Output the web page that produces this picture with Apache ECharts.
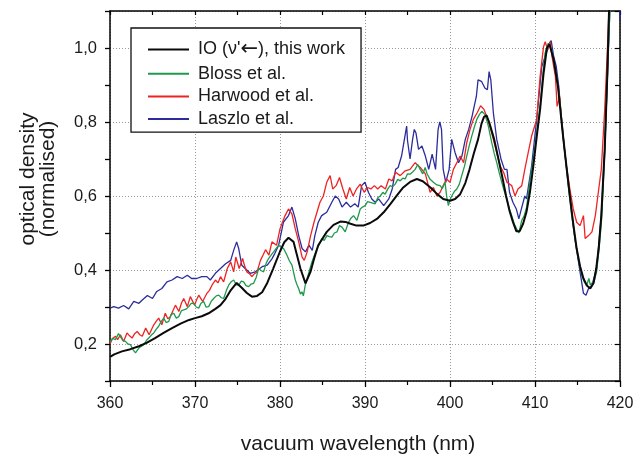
<!DOCTYPE html>
<html>
<head>
<meta charset="utf-8">
<script src="https://cdn.jsdelivr.net/npm/echarts@6/dist/echarts.min.js"></script>
<style>
  html, body { margin: 0; padding: 0; background: #fff; }
  #chart { width: 637px; height: 460px; }
</style>
</head>
<body>
<div id="chart"></div>
<script>
// Normalised optical density vs. vacuum wavelength (nm), four data sets.
const seriesNames = ["IO (\u03bd'\u2190), this work", 'Bloss et al.', 'Harwood et al.', 'Laszlo et al.'];

const ioThisWork = [
  [360.0, 0.165], [360.5, 0.172], [361.4, 0.18], [362.4, 0.186], [363.4, 0.194], [364.3, 0.203],
  [365.3, 0.216], [366.3, 0.23], [367.3, 0.243], [368.3, 0.255], [369.3, 0.265], [370.0, 0.27],
  [370.8, 0.275], [371.6, 0.283], [372.4, 0.295], [373.0, 0.305], [373.6, 0.322], [374.2, 0.345],
  [374.9, 0.365], [375.5, 0.352], [376.1, 0.338], [376.7, 0.328], [377.3, 0.33], [377.9, 0.34],
  [378.5, 0.365], [379.2, 0.404], [380.0, 0.45], [380.5, 0.475], [381.0, 0.487], [381.6, 0.476],
  [382.0, 0.44], [382.4, 0.404], [383.0, 0.364], [383.6, 0.396], [384.0, 0.43], [384.5, 0.467],
  [385.5, 0.503], [386.3, 0.522], [387.1, 0.531], [387.7, 0.53], [388.3, 0.525], [389.0, 0.52],
  [389.8, 0.52], [390.6, 0.527], [391.4, 0.538], [392.2, 0.556], [393.0, 0.579], [393.8, 0.603],
  [394.5, 0.623], [395.3, 0.638], [396.1, 0.646], [396.8, 0.64], [397.7, 0.623], [398.5, 0.605],
  [399.2, 0.592], [400.0, 0.587], [400.6, 0.592], [401.2, 0.605], [401.8, 0.635], [402.3, 0.672],
  [402.8, 0.715], [403.3, 0.753], [403.7, 0.795], [404.0, 0.814], [404.3, 0.818], [404.6, 0.80],
  [405.2, 0.753], [405.7, 0.70], [406.2, 0.646], [406.6, 0.6], [407.0, 0.56], [407.4, 0.53],
  [407.8, 0.505], [408.2, 0.505], [408.6, 0.525], [409.0, 0.557], [409.4, 0.61], [409.8, 0.681],
  [410.2, 0.76], [410.6, 0.834], [411.0, 0.93], [411.4, 1.0], [411.7, 1.01], [412.2, 0.968],
  [412.7, 0.896], [413.3, 0.762], [413.7, 0.68], [414.1, 0.6], [414.5, 0.525], [414.9, 0.458],
  [415.3, 0.41], [415.7, 0.377], [416.1, 0.358], [416.5, 0.35], [416.9, 0.365], [417.2, 0.404],
  [417.5, 0.46], [417.8, 0.547], [418.2, 0.726], [418.5, 0.923], [418.7, 1.093], [419.0, 1.3]
];

const bloss = [
  [360.0, 0.205], [360.3, 0.215], [360.65, 0.212], [361.0, 0.228], [361.23, 0.225], [361.5, 0.21],
  [361.82, 0.207], [362.1, 0.2], [362.41, 0.198], [362.7, 0.185], [363.0, 0.176], [363.39, 0.189],
  [363.97, 0.198], [364.3, 0.21], [364.56, 0.216], [364.9, 0.225], [365.15, 0.23], [365.45, 0.24],
  [365.73, 0.248], [366.0, 0.26], [366.32, 0.27], [366.6, 0.258], [366.91, 0.261], [367.2, 0.28],
  [367.5, 0.283], [367.8, 0.27], [368.09, 0.274], [368.4, 0.29], [368.67, 0.292], [369.0, 0.295],
  [369.26, 0.301], [369.55, 0.31], [369.85, 0.31], [370.15, 0.3], [370.44, 0.297], [370.7, 0.31],
  [371.02, 0.315], [371.3, 0.3], [371.61, 0.301], [371.9, 0.315], [372.2, 0.323], [372.5, 0.33],
  [372.79, 0.332], [373.1, 0.325], [373.37, 0.323], [373.7, 0.345], [373.96, 0.359], [374.25, 0.368],
  [374.55, 0.373], [374.85, 0.36], [375.14, 0.359], [375.45, 0.37], [375.72, 0.368], [376.0, 0.358],
  [376.31, 0.355], [376.6, 0.362], [376.9, 0.364], [377.2, 0.38], [377.49, 0.404], [377.8, 0.398],
  [378.07, 0.395], [378.4, 0.42], [378.66, 0.431], [378.95, 0.44], [379.25, 0.449], [379.6, 0.46],
  [379.84, 0.467], [380.1, 0.462], [380.42, 0.458], [380.82, 0.44], [381.1, 0.425], [381.41, 0.413],
  [381.8, 0.373], [382.0, 0.36], [382.19, 0.35], [382.4, 0.335], [382.58, 0.341], [382.75, 0.33],
  [382.97, 0.359], [383.36, 0.391], [383.76, 0.422], [384.05, 0.44], [384.35, 0.458], [384.65, 0.47],
  [384.93, 0.485], [385.2, 0.48], [385.52, 0.493], [385.8, 0.49], [386.11, 0.489], [386.4, 0.5],
  [386.7, 0.503], [387.0, 0.52], [387.29, 0.516], [387.67, 0.503], [388.06, 0.529], [388.35, 0.54],
  [388.65, 0.547], [389.05, 0.534], [389.44, 0.565], [389.7, 0.57], [390.02, 0.574], [390.3, 0.585],
  [390.61, 0.583], [391.2, 0.579], [391.5, 0.595], [391.79, 0.60], [392.1, 0.61], [392.37, 0.605],
  [392.7, 0.62], [392.96, 0.628], [393.25, 0.625], [393.55, 0.632], [393.85, 0.645], [394.14, 0.641],
  [394.45, 0.648], [394.73, 0.646], [395.0, 0.66], [395.31, 0.659], [395.6, 0.665], [395.9, 0.672],
  [396.2, 0.685], [396.49, 0.672], [396.8, 0.66], [397.08, 0.677], [397.3, 0.66], [397.66, 0.645],
  [398.05, 0.637], [398.45, 0.63], [398.84, 0.628], [399.1, 0.62], [399.42, 0.637], [399.6, 0.6],
  [399.81, 0.574], [400.0, 0.59], [400.21, 0.60], [400.5, 0.612], [400.8, 0.619], [401.1, 0.632],
  [401.38, 0.655], [401.7, 0.68], [401.97, 0.708], [402.25, 0.735], [402.56, 0.762], [402.85, 0.785],
  [403.15, 0.807], [403.45, 0.82], [403.74, 0.829], [404.12, 0.82], [404.51, 0.789], [404.91, 0.744],
  [405.2, 0.715], [405.5, 0.69], [405.8, 0.662], [406.09, 0.637], [406.4, 0.612], [406.67, 0.592],
  [407.0, 0.565], [407.26, 0.547], [407.55, 0.525], [407.85, 0.511], [408.1, 0.5], [408.3, 0.52],
  [408.44, 0.534], [408.7, 0.545], [409.02, 0.57], [409.4, 0.64], [409.8, 0.70], [410.2, 0.77],
  [410.59, 0.842], [410.9, 0.92], [411.18, 0.986], [411.56, 1.013], [411.96, 0.995], [412.25, 0.96],
  [412.55, 0.923], [412.85, 0.87], [413.14, 0.807], [413.5, 0.72], [413.91, 0.628], [414.3, 0.55],
  [414.7, 0.485], [415.1, 0.43], [415.49, 0.386], [415.8, 0.368], [416.07, 0.359], [416.34, 0.377],
  [416.5, 0.36], [416.66, 0.355], [416.95, 0.37], [417.25, 0.395], [417.55, 0.46], [417.84, 0.538],
  [418.22, 0.726], [418.61, 0.986], [418.81, 1.10], [419.0, 1.3]
];

const harwood = [
  [360.0, 0.2], [360.3, 0.215], [360.65, 0.221], [360.9, 0.212], [361.23, 0.225], [361.6, 0.207],
  [362.0, 0.23], [362.3, 0.222], [362.6, 0.216], [362.9, 0.228], [363.2, 0.234], [363.5, 0.225],
  [363.8, 0.221], [364.2, 0.243], [364.6, 0.225], [364.9, 0.24], [365.15, 0.252], [365.45, 0.262],
  [365.73, 0.27], [366.1, 0.252], [366.5, 0.283], [366.8, 0.268], [367.1, 0.274], [367.4, 0.29],
  [367.7, 0.305], [368.1, 0.288], [368.4, 0.31], [368.67, 0.323], [369.1, 0.301], [369.45, 0.328],
  [369.95, 0.305], [370.2, 0.32], [370.44, 0.332], [370.9, 0.315], [371.4, 0.337], [371.7, 0.345],
  [372.0, 0.359], [372.4, 0.373], [372.7, 0.365], [373.0, 0.382], [373.37, 0.368], [373.8, 0.404],
  [374.2, 0.422], [374.55, 0.395], [374.8, 0.435], [375.2, 0.404], [375.6, 0.431], [375.85, 0.41],
  [376.1, 0.395], [376.4, 0.39], [376.7, 0.382], [377.0, 0.39], [377.3, 0.395], [377.7, 0.426],
  [378.0, 0.44], [378.3, 0.455], [378.7, 0.44], [379.05, 0.476], [379.25, 0.48], [379.6, 0.467],
  [380.0, 0.511], [380.3, 0.53], [380.6, 0.547], [381.0, 0.565], [381.4, 0.552], [381.8, 0.511],
  [382.2, 0.476], [382.6, 0.435], [382.85, 0.426], [383.2, 0.449], [383.6, 0.493], [384.0, 0.529],
  [384.35, 0.556], [384.7, 0.583], [385.1, 0.60], [385.5, 0.637], [385.9, 0.655], [386.2, 0.619],
  [386.6, 0.628], [387.0, 0.65], [387.4, 0.619], [387.8, 0.592], [388.2, 0.623], [388.6, 0.60],
  [389.0, 0.619], [389.44, 0.632], [389.9, 0.61], [390.3, 0.623], [390.7, 0.619], [391.1, 0.628],
  [391.5, 0.619], [391.9, 0.628], [392.4, 0.619], [392.8, 0.646], [393.2, 0.641], [393.6, 0.664],
  [394.14, 0.655], [394.73, 0.668], [395.3, 0.672], [395.9, 0.69], [396.5, 0.677], [397.1, 0.66],
  [397.66, 0.61], [398.05, 0.623], [398.45, 0.60], [398.84, 0.61], [399.2, 0.628], [399.6, 0.646],
  [400.0, 0.637], [400.4, 0.672], [400.8, 0.69], [401.2, 0.708], [401.6, 0.69], [401.97, 0.744],
  [402.36, 0.78], [402.75, 0.807], [403.2, 0.825], [403.6, 0.844], [404.0, 0.834], [404.3, 0.816],
  [404.8, 0.78], [405.3, 0.735], [405.9, 0.681], [406.3, 0.664], [406.7, 0.637], [407.26, 0.628],
  [407.65, 0.60], [408.0, 0.619], [408.44, 0.628], [408.8, 0.672], [409.2, 0.717], [409.6, 0.762],
  [410.2, 0.807], [410.6, 0.923], [411.0, 1.003], [411.2, 1.017], [411.5, 0.995], [411.8, 1.017],
  [412.0, 0.977], [412.4, 0.923], [412.6, 0.842], [412.9, 0.869], [413.3, 0.762], [413.7, 0.681],
  [414.1, 0.619], [414.5, 0.565], [414.9, 0.529], [415.3, 0.52], [415.7, 0.547], [415.9, 0.485],
  [416.3, 0.493], [416.7, 0.503], [417.1, 0.547], [417.5, 0.619], [417.8, 0.672], [418.2, 0.834],
  [418.5, 0.986], [418.7, 1.10], [419.0, 1.3]
];

const laszlo = [
  [360.0, 0.297], [360.45, 0.301], [361.0, 0.297], [361.6, 0.304], [362.2, 0.295], [362.8, 0.315],
  [363.4, 0.31], [363.8, 0.319], [364.4, 0.331], [365.0, 0.323], [365.5, 0.342], [366.1, 0.35],
  [366.7, 0.368], [367.3, 0.373], [367.9, 0.382], [368.5, 0.377], [369.1, 0.386], [369.6, 0.377],
  [370.2, 0.377], [370.8, 0.382], [371.4, 0.382], [371.8, 0.373], [372.4, 0.391], [373.0, 0.404],
  [373.6, 0.417], [374.2, 0.426], [374.55, 0.453], [374.9, 0.476], [375.14, 0.458], [375.5, 0.413],
  [375.9, 0.404], [376.5, 0.391], [377.1, 0.395], [377.9, 0.409], [378.5, 0.413], [379.05, 0.43],
  [379.4, 0.445], [379.84, 0.467], [380.4, 0.529], [381.0, 0.547], [381.4, 0.57], [381.8, 0.538],
  [382.2, 0.493], [382.6, 0.458], [383.0, 0.449], [383.4, 0.467], [383.8, 0.453], [384.1, 0.493],
  [384.5, 0.529], [384.9, 0.547], [385.5, 0.556], [386.1, 0.583], [386.5, 0.60], [386.9, 0.592],
  [387.3, 0.57], [387.8, 0.583], [388.3, 0.57], [388.8, 0.579], [389.2, 0.57], [389.6, 0.628],
  [390.0, 0.637], [390.4, 0.61], [390.8, 0.592], [391.2, 0.583], [391.6, 0.592], [392.2, 0.574],
  [392.8, 0.592], [393.2, 0.619], [393.6, 0.672], [393.9, 0.677], [394.3, 0.708], [394.7, 0.762],
  [394.9, 0.789], [395.0, 0.75], [395.3, 0.70], [395.6, 0.753], [395.8, 0.78], [396.0, 0.77],
  [396.3, 0.726], [396.7, 0.735], [397.1, 0.708], [397.3, 0.69], [397.5, 0.672], [397.9, 0.713],
  [398.3, 0.672], [398.6, 0.78], [398.8, 0.80], [399.0, 0.78], [399.2, 0.672], [399.5, 0.637],
  [399.9, 0.672], [400.2, 0.753], [400.6, 0.717], [401.0, 0.69], [401.4, 0.708], [401.8, 0.753],
  [402.2, 0.78], [402.6, 0.816], [402.8, 0.811], [403.1, 0.869], [403.3, 0.914], [403.7, 0.91],
  [404.1, 0.892], [404.4, 0.887], [404.6, 0.936], [404.8, 0.914], [405.1, 0.825], [405.5, 0.753],
  [406.0, 0.70], [406.4, 0.672], [406.7, 0.672], [407.0, 0.61], [407.4, 0.583], [407.8, 0.565],
  [408.1, 0.538], [408.4, 0.565], [408.8, 0.60], [409.0, 0.592], [409.6, 0.681], [410.2, 0.807],
  [410.8, 0.95], [411.2, 0.977], [411.4, 0.977], [411.7, 1.013], [411.9, 1.02], [412.2, 0.977],
  [412.5, 0.95], [412.8, 0.896], [413.1, 0.807], [413.5, 0.717], [414.1, 0.60], [414.7, 0.485],
  [415.3, 0.395], [415.7, 0.337], [416.0, 0.332], [416.3, 0.35], [416.7, 0.359], [417.25, 0.404],
  [417.8, 0.547], [418.2, 0.726], [418.6, 0.968], [418.8, 1.10], [419.0, 1.3], [419.9, 1.3],
  [420.0, 1.075]
];

const xTicks = { min: 360, max: 420, step: 10 };
const yTicks = { min: 0.1, max: 1.1 };

const FONT = "'Liberation Sans', Arial, Helvetica, sans-serif";
const TXT = '#1a1a1a';
const gridDots = { color: '#9a9a9a', width: 1, type: [1, 2] };

// comma decimal separator; only even tenths carry a label
function odLabel(v) {
  const k = Math.round(v * 10);
  return (k % 2 === 0) ? (k / 10).toFixed(1).replace('.', ',') : '';
}

// legend entries: the arrow glyph is set a little larger
function legendLabel(name) {
  return name.indexOf('\u2190') >= 0
    ? '{t|' + name.replace('\u2190', '}{arr|\u2190}{t|') + '}'
    : '{t|' + name + '}';
}

const chart = echarts.init(document.getElementById('chart'), null, { renderer: 'canvas' });

chart.setOption({
  animation: false,
  backgroundColor: '#ffffff',
  grid: { left: 110, right: 17, top: 11, bottom: 76, containLabel: false },
  legend: {
    orient: 'vertical',
    left: 131,
    top: 28,
    data: seriesNames,
    formatter: legendLabel,
    backgroundColor: '#ffffff',
    borderColor: '#111',
    borderWidth: 1.3,
    padding: [11, 16, 4, 16],
    itemWidth: 41,
    itemHeight: 14,
    itemGap: 4.7,
    itemStyle: { opacity: 0 },
    textStyle: {
      fontFamily: FONT, fontSize: 18, lineHeight: 18, color: TXT, padding: [0, 0, 0, 4],
      rich: {
        t: { fontFamily: FONT, fontSize: 18, lineHeight: 18, color: TXT },
        arr: { fontFamily: "'DejaVu Sans', sans-serif", fontSize: 21, lineHeight: 18, color: TXT }
      }
    }
  },
  xAxis: [
    {
      type: 'value', position: 'bottom',
      min: xTicks.min, max: xTicks.max, interval: xTicks.step,
      name: 'vacuum wavelength (nm)', nameLocation: 'middle', nameGap: 53,
      nameTextStyle: { fontFamily: FONT, fontSize: 21, color: TXT, padding: [0, 14, 0, 0] },
      axisLine: { show: true, onZero: false, lineStyle: { color: '#000', width: 1.5 } },
      axisTick: { show: true, inside: false, length: 6, lineStyle: { color: '#000', width: 1.3 } },
      minorTick: { show: true, splitNumber: 2, length: 4, lineStyle: { color: '#000', width: 1.2 } },
      axisLabel: { show: true, margin: 15, fontFamily: FONT, fontSize: 16, color: TXT },
      splitLine: { show: true, lineStyle: gridDots }
    },
    {
      type: 'value', position: 'top',
      min: xTicks.min, max: xTicks.max, interval: xTicks.step / 2,
      axisLine: { show: true, onZero: false, lineStyle: { color: '#000', width: 1.5 } },
      axisTick: { show: true, inside: true, length: 4, lineStyle: { color: '#000', width: 1.2 } },
      axisLabel: { show: false },
      splitLine: { show: false }
    }
  ],
  yAxis: [
    {
      type: 'value', position: 'left',
      min: yTicks.min, max: yTicks.max,
      name: 'optical density\n(normalised)', nameLocation: 'middle', nameGap: 52,
      nameTextStyle: { fontFamily: FONT, fontSize: 21, lineHeight: 20, color: TXT, padding: [0, 0, 0, 34] },
      axisLine: { show: true, onZero: false, lineStyle: { color: '#000', width: 1.5 } },
      axisTick: { show: false },
      axisLabel: { show: true, margin: 13, fontFamily: FONT, fontSize: 16.5, color: TXT, formatter: odLabel },
      splitLine: { show: true, lineStyle: gridDots }
    },
    {
      type: 'value', position: 'left',
      min: yTicks.min, max: yTicks.max, interval: 0.1,
      axisLine: { show: false },
      axisTick: { show: true, inside: false, length: 5, lineStyle: { color: '#000', width: 1.3 } },
      axisLabel: { show: false },
      splitLine: { show: false }
    },
    {
      type: 'value', position: 'right',
      min: yTicks.min, max: yTicks.max, interval: 0.1,
      axisLine: { show: true, onZero: false, lineStyle: { color: '#000', width: 1.5 } },
      axisTick: { show: true, inside: true, length: 5, lineStyle: { color: '#000', width: 1.2 } },
      axisLabel: { show: false },
      splitLine: { show: false }
    }
  ],
  series: [
    { name: seriesNames[3], type: 'line', data: laszlo, symbol: 'none', clip: true,
      lineStyle: { color: '#2c2c9c', width: 1.3 }, itemStyle: { color: '#2c2c9c' } },
    { name: seriesNames[2], type: 'line', data: harwood, symbol: 'none', clip: true,
      lineStyle: { color: '#ee2424', width: 1.3 }, itemStyle: { color: '#ee2424' } },
    { name: seriesNames[1], type: 'line', data: bloss, symbol: 'none', clip: true,
      lineStyle: { color: '#1f9a4c', width: 1.3 }, itemStyle: { color: '#1f9a4c' } },
    { name: seriesNames[0], type: 'line', data: ioThisWork, symbol: 'none', clip: true,
      lineStyle: { color: '#0a0a0a', width: 2 }, itemStyle: { color: '#0a0a0a' } }
  ]
});
</script>
</body>
</html>
